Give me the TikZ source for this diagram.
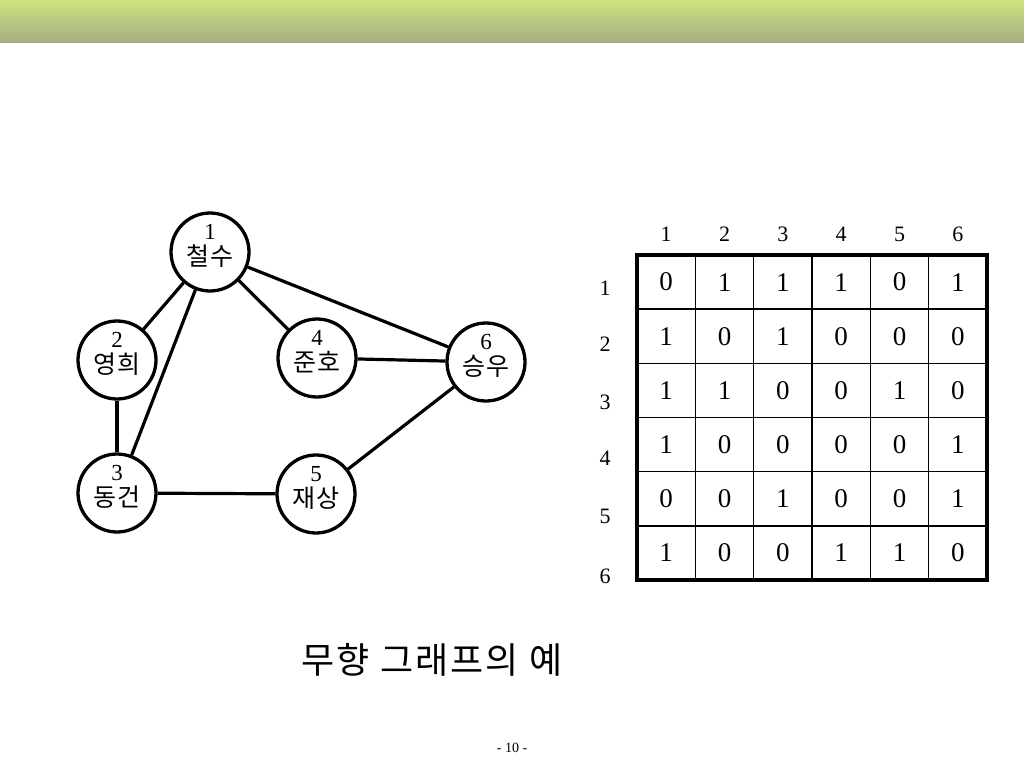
\documentclass[tikz,border=0pt]{standalone}
\usepackage{fontspec}
\setmainfont{Liberation Serif}
\newfontfamily\kr{Noto Sans CJK KR}
\newfontfamily\krs{Noto Sans CJK KR}[LetterSpace=6]
\usetikzlibrary{calc}
\definecolor{bartop}{HTML}{CDE47F}
\definecolor{barbot}{HTML}{A4AC84}
\tikzset{
  vert/.style={circle,draw=black,line width=3.3pt,minimum size=78pt,inner sep=0pt,fill=white},
  edge/.style={line width=3.2pt},
  numlab/.style={font=\fontsize{23}{23}\selectfont,inner sep=0pt},
  namelab/.style={font=\krs\fontsize{25}{25}\selectfont,inner sep=0pt},
  hdr/.style={font=\fontsize{22}{22}\selectfont,inner sep=0pt},
  cell/.style={font=\fontsize{27}{27}\selectfont,inner sep=0pt},
}
\begin{document}
\begin{tikzpicture}[x=1pt,y=-1pt]
\useasboundingbox (0,0) rectangle (1024,768);
\shade[top color=bartop,bottom color=barbot] (0,0) rectangle (1024,43);
% vertices
\node[vert] (n1) at (210,252) {};
\node[vert] (n2) at (117,360) {};
\node[vert] (n4) at (317,358) {};
\node[vert] (n6) at (486,362) {};
\node[vert] (n3) at (117,493) {};
\node[vert] (n5) at (316,494) {};
% edges
\draw[edge] (n1) -- (n2);
\draw[edge] (n1) -- (n3);
\draw[edge] (n1) -- (n4);
\draw[edge] (n1) -- (n6);
\draw[edge] (n2) -- (n3);
\draw[edge] (n3) -- (n5);
\draw[edge] (n4) -- (n6);
\draw[edge] (n5) -- (n6);
% labels
\foreach \n/\t in {1/철수,2/영희,3/동건,4/준호,5/재상,6/승우}{
  \node[numlab] (k\n) at ($(n\n)+(0,-20)$) {\n};
  \node[namelab] (m\n) at ($(n\n)+(0,4)$) {\t};
}
% matrix
\def\mx{637}\def\my{255}\def\cw{58.33}\def\rh{54.17}
\foreach \i in {1,...,5}{
  \draw[line width=1.6pt] ({\mx+\i*\cw},\my) -- ({\mx+\i*\cw},580);
  \draw[line width=1.6pt] (\mx,{\my+\i*\rh}) -- (987,{\my+\i*\rh});
}
\draw[line width=3.5pt] (\mx,\my) rectangle (987,580);
\foreach \c in {1,...,6}{
  \node[hdr] (h\c) at ({\mx+(\c-0.5)*\cw},234) {\c};
}
\foreach \r/\yy in {1/288,2/344,3/402,4/458,5/516,6/576}{
  \node[hdr] (r\r) at (605,\yy) {\r};
}
\foreach \row [count=\r] in {{0,1,1,1,0,1},{1,0,1,0,0,0},{1,1,0,0,1,0},{1,0,0,0,0,1},{0,0,1,0,0,1},{1,0,0,1,1,0}}{
  \foreach \v [count=\c] in \row {
    \node[cell] (c\r\c) at ({\mx+(\c-0.5)*\cw},{\my+(\r-0.5)*\rh}) {\v};
  }
}
\node[font=\krs\fontsize{36}{36}\selectfont,inner sep=0pt] (title) at (432,660) {무향 그래프의 예};
\node[font=\fontsize{14}{14}\selectfont,inner sep=0pt] (page) at (512,748) {- 10 -};
\end{tikzpicture}
\end{document}
